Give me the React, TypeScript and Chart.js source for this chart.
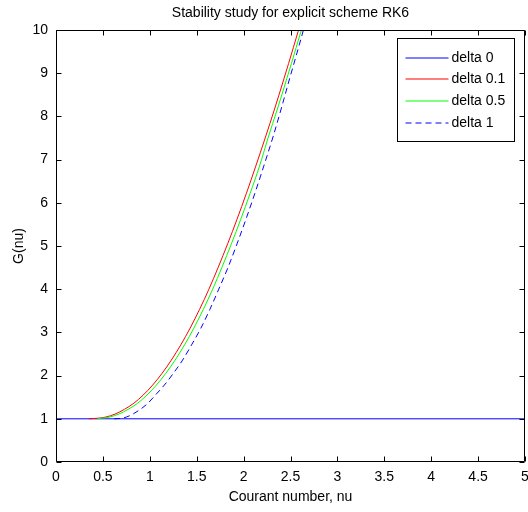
import React, { useEffect, useRef } from "react";
import { Chart, registerables } from "chart.js";

Chart.register(...registerables);

const titleText = "Stability study for explicit scheme RK6";
const xAxisLabel = "Courant number, nu";
const yAxisLabel = "G(nu)";

const xTicks = [0, 0.5, 1, 1.5, 2, 2.5, 3, 3.5, 4, 4.5, 5];
const yTicks = [0, 1, 2, 3, 4, 5, 6, 7, 8, 9, 10];

const seriesLabels = ["delta 0", "delta 0.1", "delta 0.5", "delta 1"];
const seriesColors = ["#0000ff", "#ff0000", "#00ff00", "#0000ff"];

const delta0Nu = [0, 5];
const delta0G = [1, 1];

const delta01Nu = [0.35, 0.43, 0.53, 0.63, 0.73, 0.83, 0.93, 1.03, 1.13, 1.23, 1.33, 1.43, 1.53, 1.63, 1.73, 1.83, 1.93, 2.03, 2.13, 2.23, 2.33, 2.43, 2.53, 2.63];
const delta01G = [1.0, 1.01, 1.04, 1.11, 1.22, 1.36, 1.55, 1.78, 2.05, 2.36, 2.71, 3.1, 3.53, 4.0, 4.51, 5.05, 5.62, 6.22, 6.85, 7.5, 8.17, 8.87, 9.59, 10.33];

const delta05Nu = [0.44, 0.47, 0.57, 0.67, 0.77, 0.87, 0.97, 1.07, 1.17, 1.27, 1.37, 1.47, 1.57, 1.67, 1.77, 1.87, 1.97, 2.07, 2.17, 2.26, 2.36, 2.46, 2.56, 2.66];
const delta05G = [1.0, 1.01, 1.04, 1.11, 1.22, 1.36, 1.55, 1.78, 2.05, 2.36, 2.71, 3.1, 3.53, 4.0, 4.51, 5.05, 5.62, 6.22, 6.85, 7.5, 8.17, 8.87, 9.59, 10.33];

const delta1Nu = [0.62, 0.69, 0.75, 0.82, 0.9, 0.98, 1.06, 1.155, 1.25, 1.35, 1.445, 1.545, 1.64, 1.735, 1.835, 1.93, 2.025, 2.12, 2.215, 2.31, 2.4, 2.49, 2.585, 2.68];
const delta1G = [1.0, 1.01, 1.04, 1.11, 1.22, 1.36, 1.55, 1.78, 2.05, 2.36, 2.71, 3.1, 3.53, 4.0, 4.51, 5.05, 5.62, 6.22, 6.85, 7.5, 8.17, 8.87, 9.59, 10.33];

const seriesNu = [delta0Nu, delta01Nu, delta05Nu, delta1Nu];
const seriesG = [delta0G, delta01G, delta05G, delta1G];
const seriesDash = [[], [], [], [6, 4]];

const FONT = "'Liberation Sans', Arial, sans-serif";

const framePlugin = {
  id: "matlabFrame",
  afterDatasetsDraw(chart: any) {
    const { ctx, chartArea, scales } = chart;
    const { left, right, top, bottom } = chartArea;
    const xs = scales.x;
    const ys = scales.y;
    ctx.save();
    ctx.strokeStyle = "#000";
    ctx.lineWidth = 1;
    const L = Math.round(left) + 0.5;
    const R = Math.round(right) - 0.5;
    const T = Math.round(top) + 0.5;
    const B = Math.round(bottom) - 0.5;
    ctx.beginPath();
    ctx.rect(L, T, R - L, B - T);
    const tl = 5;
    xTicks.forEach((v) => {
      const px = Math.round(xs.getPixelForValue(v)) + 0.5;
      ctx.moveTo(px, B);
      ctx.lineTo(px, B - tl);
      ctx.moveTo(px, T);
      ctx.lineTo(px, T + tl);
    });
    yTicks.forEach((v) => {
      const py = Math.round(ys.getPixelForValue(v)) + 0.5;
      ctx.moveTo(L, py);
      ctx.lineTo(L + tl, py);
      ctx.moveTo(R, py);
      ctx.lineTo(R - tl, py);
    });
    ctx.stroke();

    // legend box
    const boxW = 117;
    const boxH = 103;
    const bx = Math.round(right) - 11 - boxW + 0.5;
    const by = Math.round(top) + 8 + 0.5;
    ctx.fillStyle = "#fff";
    ctx.fillRect(bx, by, boxW, boxH);
    ctx.strokeStyle = "#000";
    ctx.strokeRect(bx, by, boxW, boxH);
    ctx.font = `14px ${FONT}`;
    ctx.textBaseline = "middle";
    ctx.textAlign = "left";
    chart.data.datasets.forEach((ds: any, i: number) => {
      const cy = Math.round(by + 19 + i * 21.7);
      ctx.beginPath();
      ctx.strokeStyle = seriesColors[i];
      ctx.lineWidth = 1.2;
      ctx.setLineDash(seriesDash[i]);
      ctx.moveTo(bx + 8, cy);
      ctx.lineTo(bx + 51, cy);
      ctx.stroke();
      ctx.setLineDash([]);
      ctx.fillStyle = "#000";
      ctx.fillText(ds.label, bx + 54, cy);
    });
    ctx.restore();
  },
};

export default function App() {
  const canvasRef = useRef<HTMLCanvasElement | null>(null);

  useEffect(() => {
    const canvas = canvasRef.current;
    if (!canvas) return;
    const datasets = seriesLabels.map((label, i) => ({
      label,
      data: seriesNu[i].map((nu, k) => ({ x: nu, y: seriesG[i][k] })),
      borderColor: seriesColors[i],
      backgroundColor: seriesColors[i],
      borderWidth: 1,
      borderDash: seriesDash[i],
      pointRadius: 0,
      fill: false,
      cubicInterpolationMode: "monotone" as const,
      order: seriesLabels.length - i,
    }));

    const chart = new Chart(canvas, {
      type: "line",
      data: { datasets },
      options: {
        responsive: false,
        animation: false,
        devicePixelRatio: 1,
        layout: { padding: { left: 0, right: 3, top: 0, bottom: 0 } },
        plugins: {
          legend: { display: false },
          tooltip: { enabled: false },
          title: {
            display: true,
            text: titleText,
            color: "#000",
            fullSize: false,
            font: { family: FONT, size: 14, weight: "normal", lineHeight: "17px" as any },
            padding: { top: 5, bottom: 8 },
          },
        },
        scales: {
          x: {
            type: "linear",
            min: 0,
            max: 5,
            afterBuildTicks: (scale: any) => {
              scale.ticks = xTicks.map((v) => ({ value: v }));
            },
            afterFit: (scale: any) => {
              scale.height = 50;
              scale.paddingLeft = 0;
              scale.paddingRight = 0;
            },
            ticks: {
              color: "#000",
              font: { family: FONT, size: 14 },
              padding: 7,
              maxRotation: 0,
              autoSkip: false,
              callback: (v: any) => String(v),
            },
            grid: { display: false, drawTicks: false },
            border: { display: false },
            title: {
              display: true,
              text: xAxisLabel,
              color: "#000",
              font: { family: FONT, size: 14 },
              padding: { top: 0, bottom: 6 },
            },
          },
          y: {
            type: "linear",
            min: 0,
            max: 10,
            afterBuildTicks: (scale: any) => {
              scale.ticks = yTicks.map((v) => ({ value: v }));
            },
            afterFit: (scale: any) => {
              scale.width = 56;
              scale.paddingTop = 0;
              scale.paddingBottom = 0;
            },
            ticks: {
              color: "#000",
              font: { family: FONT, size: 14 },
              padding: 8,
              autoSkip: false,
              callback: (v: any) => String(v),
            },
            grid: { display: false, drawTicks: false },
            border: { display: false },
            title: {
              display: true,
              text: yAxisLabel,
              color: "#000",
              font: { family: FONT, size: 14 },
              padding: { top: 11, bottom: 0 },
            },
          },
        },
      },
      plugins: [framePlugin],
    });
    return () => chart.destroy();
  }, []);

  return (
    <div style={{ position: "fixed", left: 0, top: 0, width: 528, height: 512, background: "#fff" }}>
      <canvas ref={canvasRef} width={528} height={512} style={{ display: "block" }} />
    </div>
  );
}
